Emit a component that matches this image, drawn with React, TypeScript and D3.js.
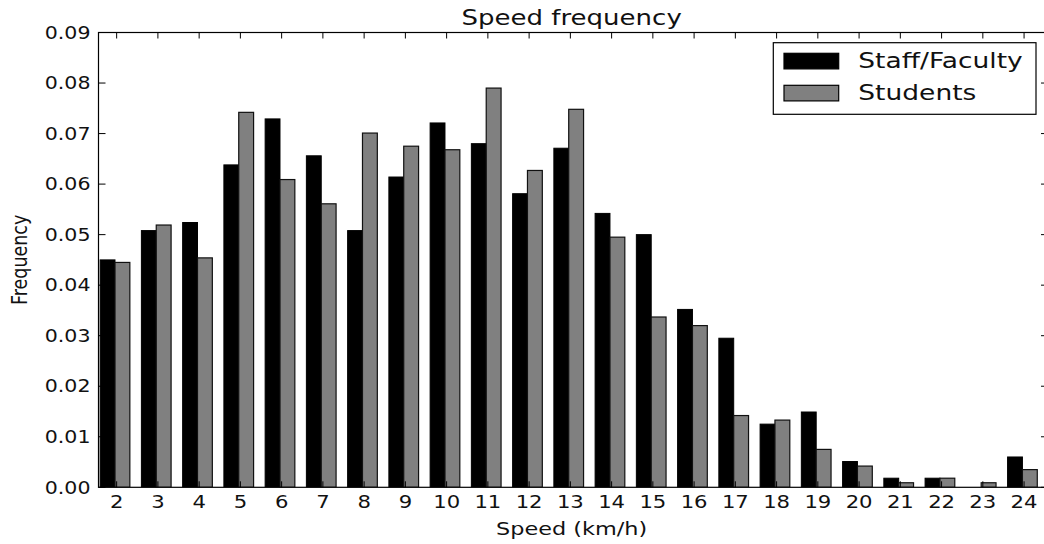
import React from "react";
import * as d3 from "d3";

const speeds = [2, 3, 4, 5, 6, 7, 8, 9, 10, 11, 12, 13, 14, 15, 16, 17, 18, 19, 20, 21, 22, 23, 24];
const staffFaculty = [0.045, 0.0508, 0.0524, 0.0638, 0.0729, 0.0656, 0.0508, 0.0614, 0.0721, 0.068, 0.0581, 0.0671, 0.0542, 0.05, 0.0352, 0.0295, 0.0125, 0.0149, 0.0051, 0.0018, 0.0018, 0.0, 0.006];
const students = [0.0445, 0.0519, 0.0454, 0.0742, 0.0609, 0.0561, 0.0701, 0.0675, 0.0668, 0.079, 0.0627, 0.0748, 0.0495, 0.0337, 0.032, 0.0142, 0.0133, 0.0075, 0.0042, 0.0009, 0.0018, 0.0009, 0.0035];
const yTicks = [0, 0.01, 0.02, 0.03, 0.04, 0.05, 0.06, 0.07, 0.08, 0.09];
const seriesNames = ["Staff/Faculty", "Students"];
const seriesColors = ["#000000", "#808080"];

const W = 1044;
const H = 544;
const left = 98.5;
const right = 1048;
const top = 32.5;
const bottom = 487.3;
const SX = 1.21;
const FONT = "'DejaVu Sans', sans-serif";

function SText({ x, y, size, anchor = "start", rotate = 0, children }: any) {
  return (
    <text
      transform={`translate(${x},${y}) scale(${SX},1)${rotate ? ` rotate(${rotate})` : ""}`}
      fontSize={size}
      textAnchor={anchor}
      fontFamily={FONT}
      fill="#111"
    >
      {children}
    </text>
  );
}

export default function App() {
  const x = d3.scaleLinear().domain([1.56, 24.58]).range([left, right]);
  const y = d3.scaleLinear().domain([0, 0.09]).range([bottom, top]);
  const bw = 0.36;
  const off = -0.04;
  const fmt = d3.format(".2f");

  return (
    <svg width={W} height={H} style={{ position: "absolute", left: 0, top: 0, background: "#fff" }}>
      <rect x={0} y={0} width={W} height={H} fill="#fff" />
      <defs>
        <clipPath id="plotclip">
          <rect x={left} y={top} width={right - left} height={bottom - top} />
        </clipPath>
      </defs>
      <g clipPath="url(#plotclip)">
        {speeds.map((s, i) => (
          <g key={s}>
            <rect
              x={x(s + off - bw)}
              y={y(staffFaculty[i])}
              width={x(s + off) - x(s + off - bw)}
              height={bottom - y(staffFaculty[i])}
              fill={seriesColors[0]}
              stroke="#000"
              strokeWidth={1}
            />
            <rect
              x={x(s + off)}
              y={y(students[i])}
              width={x(s + off + bw) - x(s + off)}
              height={bottom - y(students[i])}
              fill={seriesColors[1]}
              stroke="#111"
              strokeWidth={1.2}
            />
          </g>
        ))}
      </g>
      {yTicks.map((t) => (
        <g key={t}>
          <line x1={left} x2={left + 7} y1={y(t)} y2={y(t)} stroke="#000" strokeWidth={1} />
          <line x1={right} x2={right - 7} y1={y(t)} y2={y(t)} stroke="#000" strokeWidth={1} />
          <SText x={left - 8} y={y(t) + 6.2} size={17} anchor="end">
            {fmt(t)}
          </SText>
        </g>
      ))}
      {speeds.map((s) => (
        <g key={s}>
          <line x1={x(s)} x2={x(s)} y1={top} y2={top + 6} stroke="#000" strokeWidth={1} />
          <line x1={x(s)} x2={x(s)} y1={bottom} y2={bottom - 6} stroke="#000" strokeWidth={1} />
          <SText x={x(s)} y={508} size={17.5} anchor="middle">
            {s}
          </SText>
        </g>
      ))}
      <rect x={left} y={top} width={right - left} height={bottom - top} fill="none" stroke="#000" strokeWidth={1.2} />
      <SText x={(left + 1044.8) / 2} y={25} size={21.5} anchor="middle">
        Speed frequency
      </SText>
      <SText x={(left + 1044.8) / 2} y={535} size={18.5} anchor="middle">
        Speed (km/h)
      </SText>
      <SText x={27} y={(top + bottom) / 2} size={17.5} anchor="middle" rotate={-90}>
        Frequency
      </SText>
      <rect x={773.3} y={42.7} width={262.7} height={71.6} fill="#fff" stroke="#000" strokeWidth={1.2} />
      {seriesNames.map((n, i) => (
        <g key={n}>
          <rect
            x={784}
            y={53.3 + i * 32}
            width={54.7}
            height={15.6}
            fill={seriesColors[i]}
            stroke="#000"
            strokeWidth={1.2}
          />
          <SText x={858.3} y={67.8 + i * 32} size={21.9}>
            {n}
          </SText>
        </g>
      ))}
    </svg>
  );
}
